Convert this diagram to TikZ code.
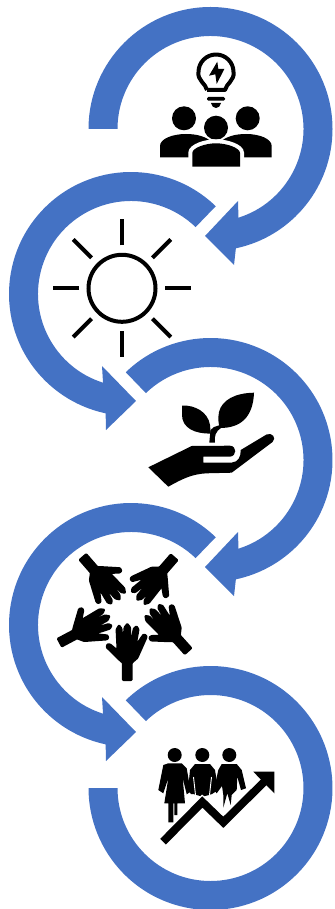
\documentclass[tikz,border=0pt]{standalone}
\usepackage{xcolor}
\usepackage{tikz}
\usetikzlibrary{calc}

\definecolor{ringblue}{HTML}{4472C4}

\begin{document}
\begin{tikzpicture}[
    x=0.75pt, y=0.75pt,
    ringarc/.style={fill=ringblue, draw=none},
    pixcoords/.style={y=-0.75pt},
    iconfill/.style={fill=black, draw=none},
    iconcut/.style={fill=black, preaction={draw=white, line width=6pt}},
    sunline/.style={draw=black, line width=3pt},
    handfill/.style={fill=black, draw=black, line width=1.1pt, line join=round, rounded corners=0.6pt},
    slitline/.style={draw=white, line width=0.7pt},
]
\useasboundingbox (0,0) rectangle (335,-909);

% ---- Right hand rings with arrow head ----
\foreach \cy/\sa in {129/180, 460/134} {
    \coordinate (ringc) at (210.5,-\cy);
    \fill[ringarc] ($(ringc)+(\sa:122)$) arc[start angle=\sa, end angle=-78, radius=122]
        -- ($(ringc)+(23.5,-136)$) -- ($(ringc)+(-5.5,-107)$) -- ($(ringc)+(27.5,-72)$)
        -- ($(ringc)+(-72.5:93)$) arc[start angle=-72.5, end angle=\sa, radius=93] -- cycle;
}

% ---- Left hand rings with arrow head ----
\foreach \cy in {294, 625} {
    \coordinate (ringc) at (131,-\cy);
    \fill[ringarc] ($(ringc)+(46:122)$) arc[start angle=46, end angle=258, radius=122]
        -- ($(ringc)+(-25,-136)$) -- ($(ringc)+(5,-107)$) -- ($(ringc)+(-29,-72)$)
        -- ($(ringc)+(252.5:93)$) arc[start angle=252.5, end angle=46, radius=93] -- cycle;
}

% ---- Last ring, plain end ----
\coordinate (ringlast) at (210.5,-788);
\fill[ringarc] ($(ringlast)+(134:122)$) arc[start angle=134, end angle=-180, radius=122]
    -- ($(ringlast)+(180:93)$) arc[start angle=-180, end angle=134, radius=93] -- cycle;

% ---- Bulb and group ----
\begin{scope}[pixcoords]
    \draw[line width=3pt, line join=round] (207,90) -- (225,90)
        .. controls (226,84) and (235,80) .. (233.5,72)
        arc[start angle=0, end angle=-180, radius=17.5]
        .. controls (197,80) and (206,84) .. (207,90);
    \fill[iconfill, rounded corners=1pt] (207,97) rectangle (225,100.7);
    \fill[iconfill] (211,103) -- (221,103) .. controls (221,106) and (218,108) .. (216,108)
        .. controls (214,108) and (211,106) .. (211,103) -- cycle;
    \fill[iconfill] (217.3,61.7) -- (209,75.7) -- (215.3,74.3) -- (216.7,84)
        -- (224.3,69) -- (218.3,69) -- cycle;
    \foreach \hx/\hy in {184/118.3, 247.7/118.3, 216/127.7} {
        \fill[iconfill] (\hx,\hy) circle[radius=12];
    }
    \fill[iconfill] (160,157.3) -- (160,146) .. controls (160,139) and (172,134) .. (186,134)
        .. controls (198,134) and (206,137) .. (212,142) -- (200,157.3) -- cycle;
    \fill[iconfill] (271.7,157.3) -- (271.7,146) .. controls (271.7,139) and (260,134) .. (246,134)
        .. controls (234,134) and (226,137) .. (220,142) -- (232,157.3) -- cycle;
    \path[iconcut] (192.3,166.7) -- (192.3,153) .. controls (192.3,148) and (205,143.3) .. (216,143.3)
        .. controls (227,143.3) and (240,148) .. (240,153) -- (240,166.7) -- cycle;
\end{scope}

% ---- Sun ----
\coordinate (suncenter) at (122,-288.3);
\draw[sunline] (suncenter) circle[radius=33.5];
\foreach \ang in {0,45,...,315} {
    \draw[sunline] ($(suncenter)+(\ang:43)$) -- ($(suncenter)+(\ang:69)$);
}

% ---- Hand with plant ----
\begin{scope}[pixcoords]
    \fill[iconfill] (182,405.5) .. controls (195,405) and (208,412) .. (210,425) -- (210.7,433.5)
        .. controls (195,434) and (182,428) .. (182,415) -- cycle;
    \fill[iconfill] (254,392.7) .. controls (235,393) and (222,400) .. (219,412)
        .. controls (218,418) and (218,423) .. (220,428) .. controls (240,428) and (253,418) .. (254,392.7) -- cycle;
    \fill[iconfill] (209.3,442.7) -- (210.5,430) -- (214,427) -- (220,425) -- (221,428)
        .. controls (216,431) and (214,436) .. (215,442.7) -- cycle;
    \fill[iconfill] (148.3,467.3) -- (191.7,446) -- (230,445.7)
        .. controls (237,446) and (237,456) .. (230,456.7)
        -- (203.3,456.7) -- (203.3,462.7) -- (232,462.5)
        .. controls (238,462) and (241,457) .. (240.7,450)
        -- (266.5,434.5) .. controls (272,432) and (277,438) .. (272.5,442)
        -- (231.7,472.7) -- (206.7,473.3) .. controls (192,474) and (182,479) .. (168.3,486.7) -- cycle;
\end{scope}

% ---- Five hands ----
\foreach \wx/\wy/\rot in {127.3/681/0, 82.3/556.3/-139, 174.7/556.7/139, 59/643/-62, 188.7/651.7/42} {
    \filldraw[handfill, shift={(\wx,-\wy)}, rotate=\rot]
        (-4.6,0.7) -- (-4.6,18) -- (-7.3,20.3) -- (-21,33.7) -- (-20,37) -- (-17.3,37)
        -- (-10,31) -- (-11,51.7) -- (-8.3,56) -- (-5.6,52.7) -- (-4.3,37.7) -- (-3,53.7)
        -- (0,57.5) -- (3,53.7) -- (3.3,37.7) -- (6.3,52.7) -- (9.3,55) -- (11.5,51.7) -- (8.7,36)
        -- (16,46.7) -- (19,46) -- (19.5,43.7) -- (12.5,28) -- (10.3,23) -- (4.6,18) -- (4.6,0.7) -- cycle;
}

% ---- People and rising arrow ----
\begin{scope}[pixcoords]
    \foreach \hx in {174.7, 202.3, 229.3} {
        \fill[iconfill] (\hx,755) circle[radius=7];
    }
    % left figure
    \fill[iconfill] (158.3,790) -- (163.3,765) -- (168.3,763.3) -- (181.7,763.3) -- (186.7,768.3)
        -- (190.7,791.7) -- (186.7,794.3) -- (182.7,778.3) -- (185,803.3) -- (177.3,803.3)
        -- (177.3,815) -- (174.3,815) -- (174.3,803.3) -- (173.3,803.3) -- (173.3,822.3)
        -- (168.3,822.3) -- (168.3,803.3) -- (164.3,803.3) -- (168.3,778.3) -- (163.3,793.3) -- cycle;
    % middle figure
    \fill[iconfill] (190,770) -- (195,764) -- (210,764) -- (215,770) -- (218.3,790)
        -- (212,794) -- (209,795) -- (202.3,796.7) -- (193.3,794) -- (191,794) -- (188,790) -- cycle;
    \draw[slitline] (193.5,777) -- (195.5,795);
    \draw[slitline] (211.5,777) -- (209.5,795);
    % right figure
    \fill[iconfill] (218.3,770) -- (221.7,764) -- (236.7,764) -- (241.7,770) -- (246,788.3)
        -- (241,790) -- (237.3,776.7) -- (236.7,790) -- (231.7,795) -- (230.7,805) -- (227.3,793.3)
        -- (223.3,807.7) -- (223.3,795) -- (222,786) -- (216.7,793.3) -- (214,790) -- cycle;
    % rising line
    \draw[draw=white, line width=8pt, line join=miter] (163,841.7) -- (202.3,802) -- (223.3,822.3) -- (265,781);
    \draw[line width=6pt, line join=miter] (163,841.7) -- (202.3,802) -- (223.3,822.3) -- (265,781);
    \fill[iconfill] (274.3,771.7) -- (253.3,771.7) -- (274.3,793.3) -- cycle;
\end{scope}

\end{tikzpicture}
\end{document}
